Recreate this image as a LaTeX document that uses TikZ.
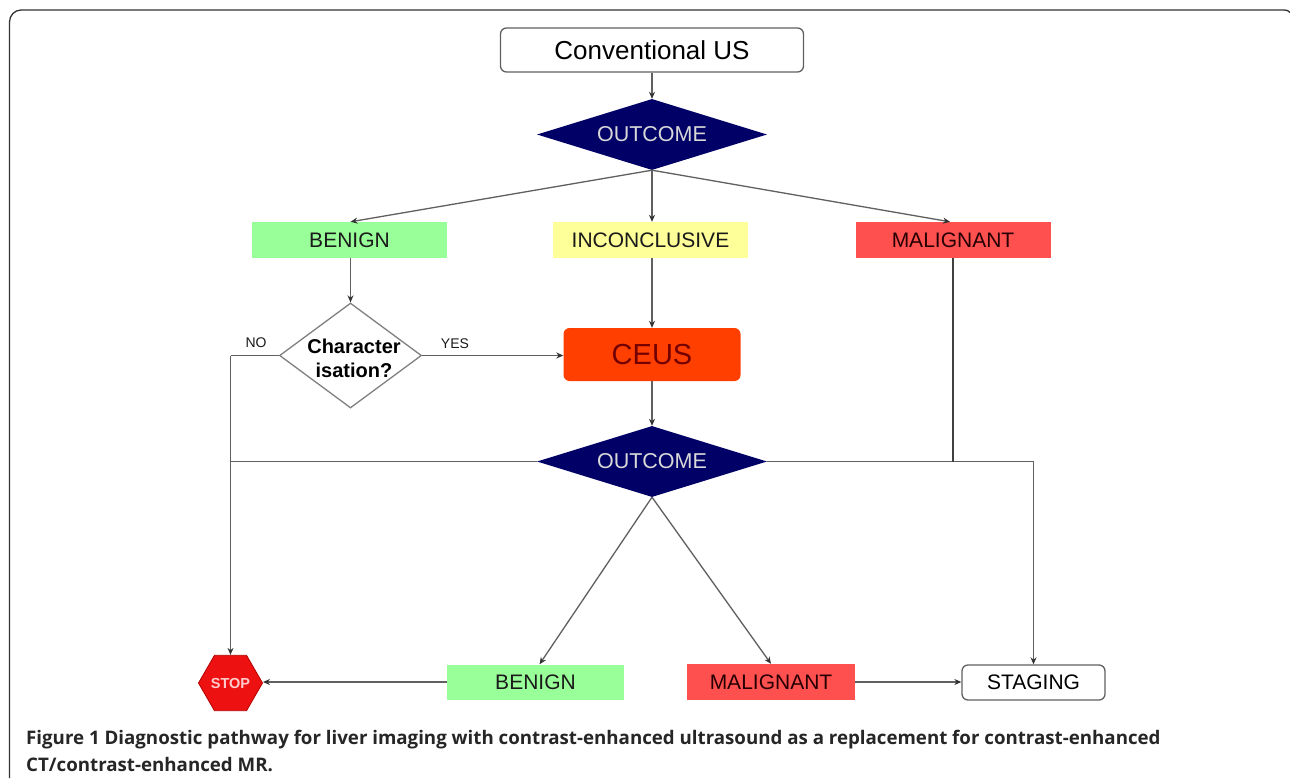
\documentclass[tikz,border=0pt]{standalone}
\usepackage{fontspec}
\setmainfont{Liberation Sans}
\newfontfamily\capfont{Open Sans}
\usetikzlibrary{shapes.geometric,arrows.meta,calc}
\definecolor{navyd}{HTML}{000066}
\definecolor{lgreen}{HTML}{99FF99}
\definecolor{lyellow}{HTML}{FFFF99}
\definecolor{lred}{HTML}{FF5050}
\definecolor{ceusred}{HTML}{FF3F00}
\definecolor{stopred}{HTML}{EE1111}
\definecolor{linegrey}{HTML}{606060}
\definecolor{txt}{HTML}{1A1A1A}
\tikzset{
  x=1pt,y=-1pt,
  conn/.style={draw=linegrey,line width=1.3pt},
  arr/.style={conn,-{Stealth[length=7pt,width=6pt,color=black!80]}},
  flat/.style={rectangle,inner sep=0pt,text=txt,font=\fontsize{21}{24}\selectfont},
  outcome/.style={diamond,fill=navyd,inner sep=0pt,minimum width=230pt,minimum height=71pt,aspect=3.24,text=white!85!black,font=\fontsize{21.5}{24}\selectfont},
  roundbox/.style={rectangle,rounded corners=6pt,draw=linegrey,line width=1.3pt,fill=white,inner sep=0pt,text=black},
  small/.style={inner sep=0pt,font=\fontsize{14}{16}\selectfont,text=txt},
  captext/.style={inner sep=0pt,anchor=base west,font=\capfont\bfseries\fontsize{18.7}{22}\selectfont,text=black!85}
}
\begin{document}
\begin{tikzpicture}
\useasboundingbox (0,0) rectangle (1290,780);
\fill[white] (0,0) rectangle (1290,780);
\draw[line width=1.3pt,black!80] (9.5,778) -- (9.5,22) to[out=90,in=180] (21,10) -- (1284,10) to[out=0,in=125] (1290,12.5);
\node[roundbox,minimum width=303pt,minimum height=44pt,font=\fontsize{26}{30}\selectfont] (conv) at (652,50) {Conventional US};
\node[outcome] (o1) at (652,134.5) {OUTCOME};
\node[flat,fill=lgreen,minimum width=195pt,minimum height=36pt] (b1) at (349.5,240) {BENIGN};
\node[flat,fill=lyellow,minimum width=195pt,minimum height=36pt] (inc) at (650.5,240) {INCONCLUSIVE};
\node[flat,fill=lred,minimum width=195pt,minimum height=36pt,text=black!85!red] (m1) at (953,240) {MALIGNANT};
\node[diamond,draw=linegrey!80,line width=1.3pt,fill=white,inner sep=0pt,minimum width=142pt,minimum height=105pt,aspect=1.35] (char) at (350.5,355.5) {};
\node[align=center,inner sep=0pt,font=\bfseries\fontsize{20}{24}\selectfont,text=black] (chartext) at (354,358.5) {Character\\isation?};
\node[rectangle,rounded corners=6pt,fill=ceusred,inner sep=0pt,minimum width=177pt,minimum height=53pt,text=black!55!red,font=\fontsize{29}{32}\selectfont] (ceus) at (652,354.5) {CEUS};
\node[outcome] (o2) at (652,461.5) {OUTCOME};
\node[regular polygon,regular polygon sides=6,fill=stopred,draw=red!70!black,line width=.8pt,inner sep=0pt,minimum size=62pt,text=white!80!red,font=\bfseries\fontsize{14.5}{16}\selectfont] (stop) at (230.5,683) {STOP};
\node[flat,fill=lgreen,minimum width=177pt,minimum height=35pt] (b2) at (535.5,682) {BENIGN};
\node[flat,fill=lred,minimum width=168pt,minimum height=36pt,text=black!85!red] (m2) at (771,682) {MALIGNANT};
\node[roundbox,minimum width=143pt,minimum height=35pt,font=\fontsize{21}{24}\selectfont] (stg) at (1033.5,682.5) {STAGING};
\node[small] (no) at (256,343) {NO};
\node[small] (yes) at (455,344) {YES};
\coordinate (jl) at (stop.north |- char.west);
\coordinate (jr) at (stg.north |- o2.east);
\coordinate (jm) at (m1.south |- o2.east);
\draw[arr] (conv) -- (o1);
\draw[arr] (o1.south) -- (b1.north -| char.north);
\draw[arr] (o1.south) -- (inc.north -| o1.south);
\draw[arr] (o1.south) -- ($(m1.north)+(-3,0)$);
\draw[arr] (b1.south -| char.north) -- (char.north);
\draw[arr] (inc.south -| ceus.north) -- (ceus.north);
\draw[arr] (char.east) -- (ceus.west |- char.east);
\draw[conn] (char.west) -- (jl);
\draw[arr] (jl) -- (stop.north);
\draw[arr] (ceus.south) -- (o2.north);
\draw[conn] (o2.west) -- (jl |- o2.west);
\draw[conn] (o2.east) -- (jr);
\draw[arr] (jr) -- (stg.north);
\draw[conn,draw=black!75] (m1.south) -- (jm);
\draw[arr] (o2.south) -- ($(b2.north)+(4,0)$);
\draw[arr] (o2.south) -- (m2.north);
\draw[arr] (b2.west) -- (stop.east |- b2.west);
\draw[arr] (m2.east) -- (stg.west |- m2.east);
\node[captext] (cap1) at (26,744) {Figure 1 Diagnostic pathway for liver imaging with contrast-enhanced ultrasound as a replacement for contrast-enhanced};
\node[captext] (cap2) at (26,771) {CT/contrast-enhanced MR.};
\end{tikzpicture}
\end{document}
